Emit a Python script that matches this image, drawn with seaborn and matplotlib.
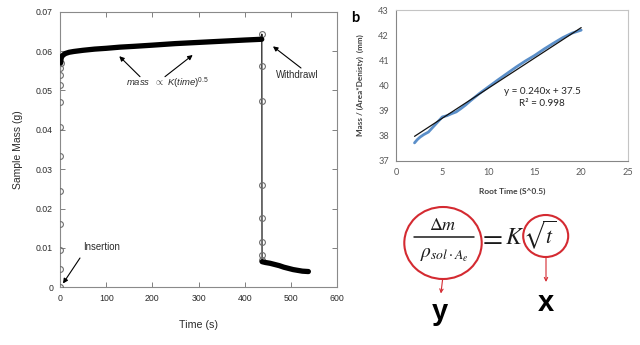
import matplotlib
matplotlib.use("Agg")
import matplotlib.pyplot as plt
import seaborn as sns
import pandas as pd
from matplotlib.patches import Ellipse, FancyArrowPatch
from matplotlib.lines import Line2D

# ---------------- panel a: immersion mass record ----------------
rise_t = [0.0, 0.1, 0.2, 0.3, 0.4, 0.5, 0.6, 0.7, 0.8, 0.9, 1.0, 1.5]
rise_m = [0.0, 0.0046, 0.0095, 0.0161, 0.0245, 0.0333, 0.0408, 0.0470,
          0.0513, 0.0539, 0.0556, 0.0570]
soak_t = [2, 3, 5, 8, 12, 20, 30, 50, 75, 100, 130, 160, 200, 250, 300,
          350, 400, 437]
soak_m = [0.0578, 0.0584, 0.0588, 0.0591, 0.0594, 0.0597, 0.0599, 0.0602,
          0.0605, 0.0607, 0.0610, 0.0612, 0.0615, 0.0619, 0.0622, 0.0625,
          0.0628, 0.0630]
drop_t = [437.1, 437.2, 437.3, 437.4, 437.5, 437.6, 437.7, 437.8]
drop_m = [0.0643, 0.0563, 0.0474, 0.0260, 0.0175, 0.0116, 0.0082, 0.0070]
tail_t = [438, 445, 455, 465, 475, 485, 495, 505, 515, 525, 538]
tail_m = [0.0065, 0.0063, 0.0061, 0.0058, 0.0055, 0.0051, 0.0048, 0.0045,
          0.0043, 0.0041, 0.0040]

time_ticks = [0, 100, 200, 300, 400, 500, 600]
mass_ticks = [0, 0.01, 0.02, 0.03, 0.04, 0.05, 0.06, 0.07]
mass_tick_labels = ["0", "0.01", "0.02", "0.03", "0.04", "0.05", "0.06", "0.07"]

# ---------------- panel b: normalised mass vs root time ----------------
root_t = [2.0, 2.3, 2.6, 3.0, 3.5, 4.0, 4.5, 5.0, 5.5, 6.0, 6.5, 7.0, 7.5,
          8.0, 9.0, 10.0, 11.0, 12.0, 13.0, 14.0, 15.0, 16.0, 17.0, 18.0,
          19.0, 20.0]
norm_mass = [37.72, 37.85, 37.95, 38.05, 38.15, 38.35, 38.55, 38.75, 38.80,
             38.88, 38.95, 39.08, 39.22, 39.38, 39.68, 39.95, 40.22, 40.48,
             40.74, 40.98, 41.20, 41.45, 41.68, 41.90, 42.08, 42.20]
fit_slope = 0.240
fit_intercept = 37.5
fit_r2 = 0.998
fit_x = [2.0, 20.0]
root_ticks = [0, 5, 10, 15, 20, 25]
norm_ticks = [37, 38, 39, 40, 41, 42, 43]

sns.set_theme(style="white")
plt.rcParams["font.family"] = ["Liberation Sans", "DejaVu Sans"]
plt.rcParams["mathtext.fontset"] = "custom"
plt.rcParams["mathtext.rm"] = "Liberation Sans"
plt.rcParams["mathtext.it"] = "Liberation Sans:italic"
plt.rcParams["mathtext.bf"] = "Liberation Sans:bold"

W, H = 640, 345
fig = plt.figure(figsize=(W / 100, H / 100), dpi=100, facecolor="white")


def fx(px):
    return px / W


def fy(py):
    return 1 - py / H


# ---------- panel a ----------
ax = fig.add_axes([fx(60), fy(287.3), (337 - 60) / W, (287.3 - 11.7) / H])

all_t = rise_t + soak_t + drop_t + tail_t
all_m = rise_m + soak_m + drop_m + tail_m
rec = pd.DataFrame({"t": all_t, "m": all_m})
sns.lineplot(data=rec, x="t", y="m", sort=False, estimator=None, ax=ax,
             color="#1a1a1a", lw=0.9, zorder=2)
# sparse samples during the fast transitions show as open circles
fast = pd.DataFrame({"t": rise_t + drop_t, "m": rise_m + drop_m})
sns.lineplot(data=fast, x="t", y="m", sort=False, estimator=None, ax=ax,
             linestyle="", marker="o", ms=4.2, mfc="none", mec="#6e6e6e",
             mew=0.8, zorder=3)
# densely sampled slow segments merge into a solid band
band_a = pd.DataFrame({"t": rise_t[-1:] + soak_t, "m": rise_m[-1:] + soak_m})
sns.lineplot(data=band_a, x="t", y="m", sort=False, estimator=None, ax=ax,
             color="black", lw=3.8, solid_capstyle="round", zorder=4)
band_b = pd.DataFrame({"t": tail_t, "m": tail_m})
sns.lineplot(data=band_b, x="t", y="m", sort=False, estimator=None, ax=ax,
             color="black", lw=3.8, solid_capstyle="round", zorder=4)

ax.set_xlim(0, 600)
ax.set_ylim(0, 0.07)
ax.set_xticks(time_ticks)
ax.set_xticklabels([str(v) for v in time_ticks])
ax.set_yticks(mass_ticks)
ax.set_yticklabels(mass_tick_labels)
ax.tick_params(direction="in", length=3.5, width=0.7, color="#808080",
               top=True, right=True, left=True, bottom=True,
               labelsize=6.3, labelcolor="#2b2b2b", pad=5)
for s in ax.spines.values():
    s.set_color("#8a8a8a")
    s.set_linewidth(0.8)
ax.set_xlabel("Time (s)", fontsize=7.7, color="#2b2b2b", labelpad=12)
ax.set_ylabel("Sample Mass (g)", fontsize=7.5, color="#2b2b2b", labelpad=9)

arrow_kw = dict(arrowstyle="-|>", color="black", lw=0.8, mutation_scale=7,
                shrinkA=0, shrinkB=0)
ax.annotate("", xy=(6.5, 0.00097), xytext=(43.3, 0.00744), arrowprops=arrow_kw)
ax.text(89.9, 0.01016, "Insertion", fontsize=6.9, ha="center", va="center",
        color="#2b2b2b")
ax.annotate("", xy=(461.3, 0.0612), xytext=(522, 0.0557), arrowprops=arrow_kw)
ax.text(514.4, 0.0539, "Withdrawl", fontsize=6.9, ha="center", va="center",
        color="#2b2b2b")
ax.annotate("", xy=(128.4, 0.0587), xytext=(173.3, 0.0535), arrowprops=arrow_kw)
ax.annotate("", xy=(287.4, 0.0590), xytext=(227.4, 0.0535), arrowprops=arrow_kw)
ax.text(233.5, 0.0518, r"$mass\ \ \propto\ K(time)^{0.5}$", fontsize=6.8,
        ha="center", va="center", color="#2b2b2b")

# ---------- panel b ----------
bx = fig.add_axes([fx(396), fy(161), (627.5 - 396) / W, (161 - 10) / H])
sns.lineplot(x=root_t, y=norm_mass, sort=False, estimator=None, ax=bx,
             color="#5b8fc9", lw=2.0, zorder=2)
fit_y = [fit_slope * v + fit_intercept for v in fit_x]
sns.lineplot(x=fit_x, y=fit_y, sort=False, estimator=None, ax=bx,
             color="#111111", lw=0.9, zorder=3)
bx.set_xlim(0, 25)
bx.set_ylim(37, 43)
bx.set_xticks(root_ticks)
bx.set_yticks(norm_ticks)
bfont = ["Lato", "DejaVu Sans"]
for lab in bx.get_xticklabels() + bx.get_yticklabels():
    lab.set_family(bfont)
bx.tick_params(direction="out", length=3, width=0.7, color="#868686",
               labelsize=6.6, labelcolor="#595959", pad=2)
bx.spines["left"].set_color("#868686")
bx.spines["bottom"].set_color("#868686")
bx.spines["top"].set_color("#c4c4c4")
bx.spines["right"].set_color("#c4c4c4")
for s in bx.spines.values():
    s.set_linewidth(0.8)
bx.set_xlabel("Root Time (S^0.5)", fontsize=6.0, fontweight="bold",
              family=bfont, color="#404040", labelpad=8)
bx.set_ylabel("Mass / (Area*Denisty)  (mm)", fontsize=5.9, fontweight="bold",
              family=bfont, color="#404040", labelpad=10)
bx.text(15.8, 39.75, f"y = {fit_slope:.3f}x + {fit_intercept}", fontsize=7.2,
        family=bfont, ha="center", va="center", color="#262626")
bx.text(15.8, 39.28, f"R² = {fit_r2}", fontsize=7.2, family=bfont,
        ha="center", va="center", color="#262626")
fig.text(fx(355), fy(18), "b", fontsize=10.5, fontweight="bold", family=bfont,
         ha="center", va="center", color="black")

# ---------- equation with annotations ----------
red = "#d42a31"
ink = "#1a1a1a"
fig.text(fx(443), fy(230.5), r"$\Delta m$", math_fontfamily="stix",
         fontsize=13, ha="center", va="baseline", color=ink)
fig.add_artist(Line2D([fx(414), fx(474)], [fy(236.7), fy(236.7)],
                      transform=fig.transFigure, color=ink, lw=1.1))
fig.text(fx(444), fy(257.5), r"$\rho_{sol\cdot A_e}$", math_fontfamily="stix",
         fontsize=14, ha="center", va="baseline", color=ink)
fig.text(fx(490), fy(237), r"$=$", math_fontfamily="stix", fontsize=21,
         ha="center", va="center", color=ink)
fig.text(fx(505), fy(243.5), r"$K$", math_fontfamily="stix",
         fontsize=17, ha="left", va="baseline", color=ink)
fig.text(fx(523), fy(243.5), r"$\sqrt{t}$", math_fontfamily="stix",
         fontsize=15.5, ha="left", va="baseline", color=ink)

fig.add_artist(Ellipse((fx(443), fy(243)), 2 * 38.7 / W, 2 * 36 / H,
                       transform=fig.transFigure, fill=False, ec=red, lw=1.5))
fig.add_artist(Ellipse((fx(545.7), fy(236)), 2 * 22.5 / W, 2 * 21 / H,
                       transform=fig.transFigure, fill=False, ec=red, lw=1.5))
for (x0, y0), (x1, y1) in [((442.7, 278.5), (440.9, 293.5)),
                           ((546, 257), (546, 282))]:
    fig.add_artist(FancyArrowPatch((fx(x0), fy(y0)), (fx(x1), fy(y1)),
                                   transform=fig.transFigure, arrowstyle="->",
                                   mutation_scale=6, color=red, lw=0.8,
                                   shrinkA=0, shrinkB=0))
fig.text(fx(440), fy(320), "y", fontsize=21, fontweight="bold",
         ha="center", va="baseline", color="black")
fig.text(fx(546), fy(310.7), "x", fontsize=21, fontweight="bold",
         ha="center", va="baseline", color="black")

fig.savefig("out.png", dpi=100, facecolor="white")
